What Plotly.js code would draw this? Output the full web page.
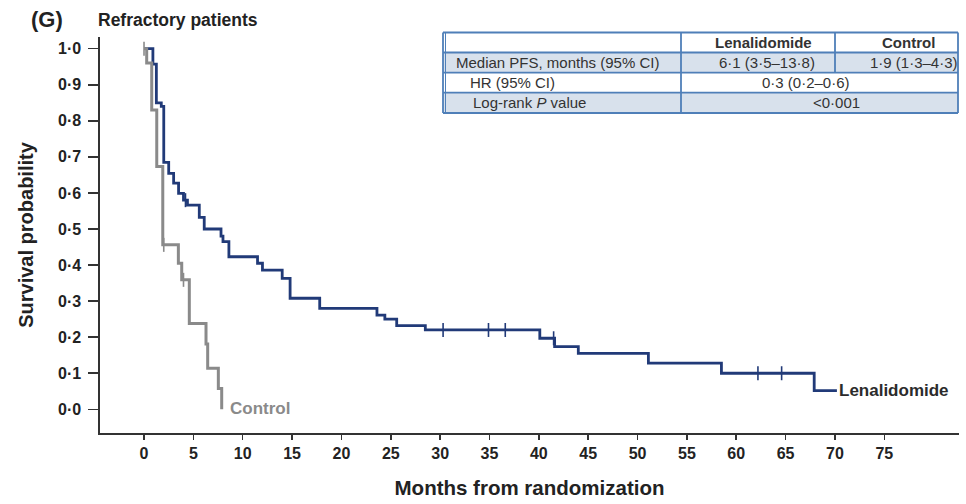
<!DOCTYPE html>
<html><head><meta charset="utf-8">
<script src="https://cdn.plot.ly/plotly-3.0.1.min.js"></script>
<style>body{margin:0;background:#fff}#chart{width:966px;height:504px}</style>
</head><body><div id="chart"></div>
<script>
// ---- data ----
const lenTimes = [0, 0.9, 1.25, 1.75, 2.0, 2.5, 3.0, 3.5, 4.0, 4.4, 5.6, 6.1, 7.8, 8.0, 8.6, 11.5, 12.0, 14.0, 14.8, 17.8, 23.6, 24.4, 25.6, 28.5, 40.1, 41.6, 44.0, 51.1, 58.5, 67.9, 70.2];
const lenSurv  = [1.0, 0.957, 0.85, 0.84, 0.685, 0.654, 0.627, 0.599, 0.58, 0.566, 0.532, 0.5, 0.48, 0.465, 0.423, 0.405, 0.386, 0.363, 0.308, 0.28, 0.261, 0.25, 0.232, 0.22, 0.197, 0.174, 0.155, 0.128, 0.1, 0.052, 0.052];
const lenCensorTimes = [4.2, 30.3, 34.9, 36.6, 41.5, 62.2, 64.6];

const ctlTimes = [0, 0.27, 0.78, 1.29, 1.9, 3.48, 3.82, 4.59, 6.28, 6.45, 7.53, 7.87];
const ctlSurv  = [1.0, 0.96, 0.83, 0.673, 0.456, 0.405, 0.359, 0.238, 0.181, 0.114, 0.058, 0.0];
const ctlCensorTimes = [0, 2.0, 4.0];

const xTickVals = [0, 5, 10, 15, 20, 25, 30, 35, 40, 45, 50, 55, 60, 65, 70, 75];
const xTickText = ['0', '5', '10', '15', '20', '25', '30', '35', '40', '45', '50', '55', '60', '65', '70', '75'];
const yTickVals = [0, 0.1, 0.2, 0.3, 0.4, 0.5, 0.6, 0.7, 0.8, 0.9, 1.0];
const yTickText = ['0·0', '0·1', '0·2', '0·3', '0·4', '0·5', '0·6', '0·7', '0·8', '0·9', '1·0'];

const seriesNames = ['Lenalidomide', 'Control'];
const tableHeader = ['', 'Lenalidomide', 'Control'];
const tableRowLabels = ['Median PFS, months (95% CI)', 'HR (95% CI)', 'Log-rank <i>P</i> value'];
const tableMedianValues = ['6·1 (3·5–13·8)', '1·9 (1·3–4·3)'];
const tableHR = '0·3 (0·2–0·6)';
const tableP = '&lt;0·001';

const panelLabel = '(G)';
const panelTitle = 'Refractory patients';
const xTitle = 'Months from randomization';
const yTitle = 'Survival probability';

// ---- helpers ----
function stepAt(times, surv, t) {
  let v = surv[0];
  for (let i = 0; i < times.length; i++) { if (times[i] <= t) v = surv[i]; }
  return v;
}
const LEN_COLOR = '#213a78';
const CTL_COLOR = '#8a8a8a';
const TXT = '#222222';
const FONT = 'Liberation Sans, Arial, sans-serif';

const W = 966, H = 504, ML = 100, MR = 7, MT = 37, MB = 71;
const px = x => (x - ML) / (W - ML - MR);
const py = y => (H - MB - y) / (H - MT - MB);

const traces = [
  { x: lenTimes, y: lenSurv, mode: 'lines', line: { shape: 'hv', color: LEN_COLOR, width: 2.8 }, name: seriesNames[0], showlegend: false, hoverinfo: 'skip' },
  { x: ctlTimes, y: ctlSurv, mode: 'lines', line: { shape: 'hv', color: CTL_COLOR, width: 3 }, name: seriesNames[1], showlegend: false, hoverinfo: 'skip' },
  { x: lenCensorTimes, y: lenCensorTimes.map(t => stepAt(lenTimes, lenSurv, t)), mode: 'markers',
    marker: { symbol: 'line-ns', size: 10, line: { color: LEN_COLOR, width: 1.6 } }, showlegend: false, hoverinfo: 'skip' },
  { x: ctlCensorTimes, y: ctlCensorTimes.map(t => stepAt(ctlTimes, ctlSurv, t)), mode: 'markers',
    marker: { symbol: 'line-ns', size: 10, line: { color: CTL_COLOR, width: 1.6 } }, showlegend: false, hoverinfo: 'skip' }
];

// ---- table built from shapes + annotations ----
const tx = [443, 681, 835, 958];
const ty = [32.5, 52.5, 72.7, 92.7, 113];
const shapes = [];
const annotations = [];
const SHADE = '#d8e1ec', BORDER = '#4f7fb8';
[1, 3].forEach(r => shapes.push({ type: 'rect', xref: 'paper', yref: 'paper', x0: px(tx[0]), x1: px(tx[3]), y0: py(ty[r + 1]), y1: py(ty[r]), fillcolor: SHADE, line: { width: 0 }, layer: 'below' }));
ty.forEach(y => shapes.push({ type: 'line', xref: 'paper', yref: 'paper', x0: px(tx[0]), x1: px(tx[3]), y0: py(y), y1: py(y), line: { color: BORDER, width: 1.8 } }));
[tx[0], tx[1], tx[3]].forEach(x => shapes.push({ type: 'line', xref: 'paper', yref: 'paper', x0: px(x), x1: px(x), y0: py(ty[4]), y1: py(ty[0]), line: { color: BORDER, width: 1.8 } }));
shapes.push({ type: 'line', xref: 'paper', yref: 'paper', x0: px(tx[0] + 2.5), x1: px(tx[0] + 2.5), y0: py(ty[4]), y1: py(ty[0]), line: { color: BORDER, width: 1 } });
shapes.push({ type: 'line', xref: 'paper', yref: 'paper', x0: px(tx[2]), x1: px(tx[2]), y0: py(ty[2]), y1: py(ty[0]), line: { color: BORDER, width: 1.8 } });

function tAnn(text, x, y, anchor, bold) {
  annotations.push({ text: bold ? '<b>' + text + '</b>' : text, xref: 'paper', yref: 'paper', x: px(x), y: py(y), xanchor: anchor, yanchor: 'middle',
    showarrow: false, font: { family: FONT, size: 15, color: '#333333' } });
}
const rowMid = r => (ty[r] + ty[r + 1]) / 2;
tAnn(tableHeader[1], 763, rowMid(0), 'center', true);
tAnn(tableHeader[2], 908, rowMid(0), 'center', true);
tAnn(tableRowLabels[0], 454, rowMid(1), 'left');
tAnn(tableRowLabels[1], 468, rowMid(2), 'left');
tAnn(tableRowLabels[2], 471, rowMid(3), 'left');
tAnn(tableMedianValues[0], 767, rowMid(1), 'center');
tAnn(tableMedianValues[1], 914, rowMid(1), 'center');
tAnn(tableHR, 806, rowMid(2), 'center');
tAnn(tableP, 836, rowMid(3), 'center');

// panel titles
annotations.push({ text: '<b>' + panelLabel + '</b>', xref: 'paper', yref: 'paper', x: px(29), y: py(20), xanchor: 'left', yanchor: 'middle', showarrow: false, font: { family: FONT, size: 22, color: TXT } });
annotations.push({ text: '<b>' + panelTitle + '</b>', xref: 'paper', yref: 'paper', x: px(96), y: py(20), xanchor: 'left', yanchor: 'middle', showarrow: false, font: { family: FONT, size: 17.5, color: TXT } });

// series end labels
annotations.push({ text: '<b>' + seriesNames[1] + '</b>', xref: 'x', yref: 'y', x: ctlTimes[ctlTimes.length - 1], y: ctlSurv[ctlSurv.length - 1], xanchor: 'left', yanchor: 'middle', xshift: 6, yshift: 1, showarrow: false, font: { family: FONT, size: 17, color: CTL_COLOR } });
annotations.push({ text: '<b>' + seriesNames[0] + '</b>', xref: 'x', yref: 'y', x: lenTimes[lenTimes.length - 1], y: lenSurv[lenSurv.length - 1], xanchor: 'left', yanchor: 'middle', xshift: 0, showarrow: false, font: { family: FONT, size: 17, color: '#2b2b2b' } });

const layout = {
  width: W, height: H,
  margin: { l: ML, r: MR, t: MT, b: MB, pad: 0 },
  paper_bgcolor: '#ffffff', plot_bgcolor: '#ffffff',
  font: { family: FONT, color: TXT },
  showlegend: false,
  xaxis: {
    range: [-4.46, 82.57], tickmode: 'array', tickvals: xTickVals, ticktext: xTickText,
    showgrid: false, zeroline: false, showline: true, linecolor: '#333333', linewidth: 1.6,
    ticks: 'outside', ticklen: 5, tickwidth: 1.5, tickcolor: '#333333',
    tickfont: { family: FONT, size: 16, color: TXT, weight: 'bold' },
    title: { text: '<b>' + xTitle + '</b>', font: { family: FONT, size: 20.5, color: TXT }, standoff: 20 }
  },
  yaxis: {
    range: [-0.0657, 1.0324], tickmode: 'array', tickvals: yTickVals, ticktext: yTickText,
    showgrid: false, zeroline: false, showline: true, linecolor: '#333333', linewidth: 1.6,
    ticks: 'outside', ticklen: 10, tickwidth: 1.5, tickcolor: '#333333', ticklabelstandoff: 4,
    tickfont: { family: FONT, size: 16, color: TXT, weight: 'bold' },
    title: { text: '<b>' + yTitle + '</b>', font: { family: FONT, size: 20, color: TXT }, standoff: 19 }
  },
  shapes: shapes,
  annotations: annotations
};

Plotly.newPlot('chart', traces, layout, { displayModeBar: false, staticPlot: true });
</script>
</body></html>
